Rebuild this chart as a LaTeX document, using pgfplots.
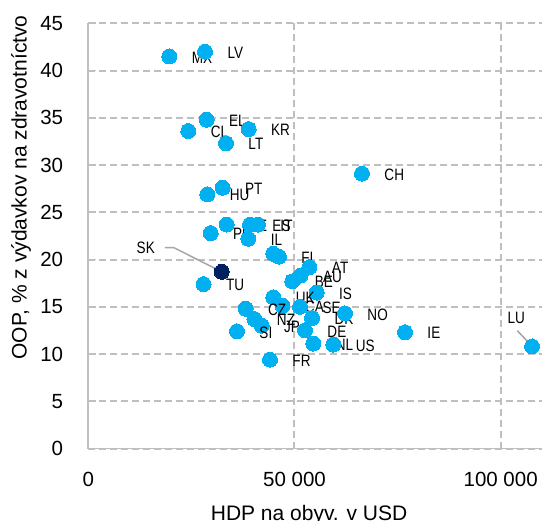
\documentclass[border=0pt]{standalone}
\usepackage{fontspec}
\setmainfont{Liberation Sans}
\newfontfamily\narrowfont{Liberation Sans}[FakeStretch=0.82]
\usepackage{pgfplots}
\pgfplotsset{compat=1.18}
\definecolor{dot}{HTML}{00B0F0}
\definecolor{skdot}{HTML}{002060}
\definecolor{gridc}{HTML}{BFBFBF}
\definecolor{axc}{HTML}{BFBFBF}
\definecolor{leader}{HTML}{A6A6A6}

\begin{document}
\begin{tikzpicture}
\begin{axis}[
  scale only axis, width=453.6bp, height=425.2bp,
  xmin=0, xmax=110000, ymin=0, ymax=45,
  axis x line=bottom, axis y line=left,
  axis line style={draw=axc, line width=1.6bp, -},
  xtick={0,50000,100000}, xticklabels={0,50 000,100 000},
  scaled x ticks=false,
  ytick={0,5,...,45},
  tick align=inside,
  major tick length=8bp,
  tick style={draw=axc, line width=1.6bp},
  xtick style={/pgfplots/major tick length=5bp},
  grid=major,
  major grid style={draw=gridc, line width=2bp, dash pattern=on 7bp off 4bp},
  /pgf/number format/assume math mode=true,
  tick label style={font=\fontsize{20.5bp}{24bp}\selectfont},
  yticklabel style={anchor=east, inner sep=0pt, xshift=-25bp},
  xticklabel style={anchor=north, inner sep=0pt, yshift=-23.5bp},
  xlabel={HDP na obyv. v USD},
  ylabel={OOP, \% z výdavkov na zdravotníctvo},
  every axis x label/.style={at={(rel axis cs:0.4867,0)}, anchor=north, inner sep=0pt, yshift=-57bp, font=\fontsize{21bp}{25bp}\selectfont},
  every axis y label/.style={at={(rel axis cs:-0.1358,0.614)}, rotate=90, anchor=base, inner sep=0pt, font=\fontsize{21bp}{25bp}\selectfont},
  clip=false,
]
% unlabelled points (LU gets its own label below)
\addplot[only marks, color=dot, mark=*, mark size=7.5bp, mark options={draw=dot, fill=dot, line width=0pt}]
  coordinates {(44860,20.6) (107600,10.8)};
% Slovakia
\addplot[only marks, color=skdot, mark=*, mark size=7.5bp, mark options={draw=skdot, fill=skdot, line width=0pt}]
  coordinates {(32350,18.7)};
% other countries
\addplot[only marks, color=dot, mark=*, mark size=7.5bp, mark options={draw=dot, fill=dot, line width=0pt},
  point meta=explicit symbolic, nodes near coords,
  nodes near coords align={anchor=west},
  every node near coord/.append style={anchor=west, inner sep=0pt, xshift=22.5bp, yshift=-1bp,
    text=black, font=\narrowfont\fontsize{16.5bp}{18bp}\selectfont}]
  table[x=x, y=y, meta=lab] {
lab x y
MX 19640 41.5
LV 28300 42.0
EL 28710 34.8
CL 24250 33.6
KR 38900 33.8
LT 33390 32.3
CH 66370 29.1
HU 28860 26.9
PT 32590 27.6
PL 29680 22.8
EE 33560 23.7
ES 39210 23.7
IT 41150 23.7
IL 38800 22.2
FI 46240 20.3
AT 53640 19.2
AU 51460 18.3
BE 49470 17.7
IS 55390 16.5
UK 44860 16.0
CA 47090 15.1
SE 51340 15.0
DK 54250 13.8
CZ 38170 14.8
NZ 40300 13.7
JP 42050 13.0
SI 36060 12.4
DE 52550 12.5
NL 54560 11.1
US 59410 11.0
NO 62250 14.3
FR 44060 9.4
IE 76800 12.3
TU 27940 17.4
};
% callout labels
\draw[leader, line width=1.5bp] (axis cs:18600,21.25) -- (axis cs:20780,21.25) -- (axis cs:31450,18.9);
\node[anchor=east, inner sep=0pt, font=\narrowfont\fontsize{16.5bp}{18bp}\selectfont] at (axis cs:16170,21.2) {SK};
\draw[leader, line width=1.5bp] (axis cs:104030,12.47) -- (axis cs:107110,11.06);
\node[inner sep=0pt, font=\narrowfont\fontsize{16.5bp}{18bp}\selectfont] at (axis cs:103790,13.86) {LU};
\coordinate (SW) at (rel axis cs:0,0);
\coordinate (NE) at (rel axis cs:1,1);
\end{axis}
\pgfresetboundingbox
\path ([xshift=-88.3bp,yshift=-72.5bp]SW) rectangle ([xshift=0.1bp,yshift=23.3bp]NE);
\end{tikzpicture}
\end{document}
